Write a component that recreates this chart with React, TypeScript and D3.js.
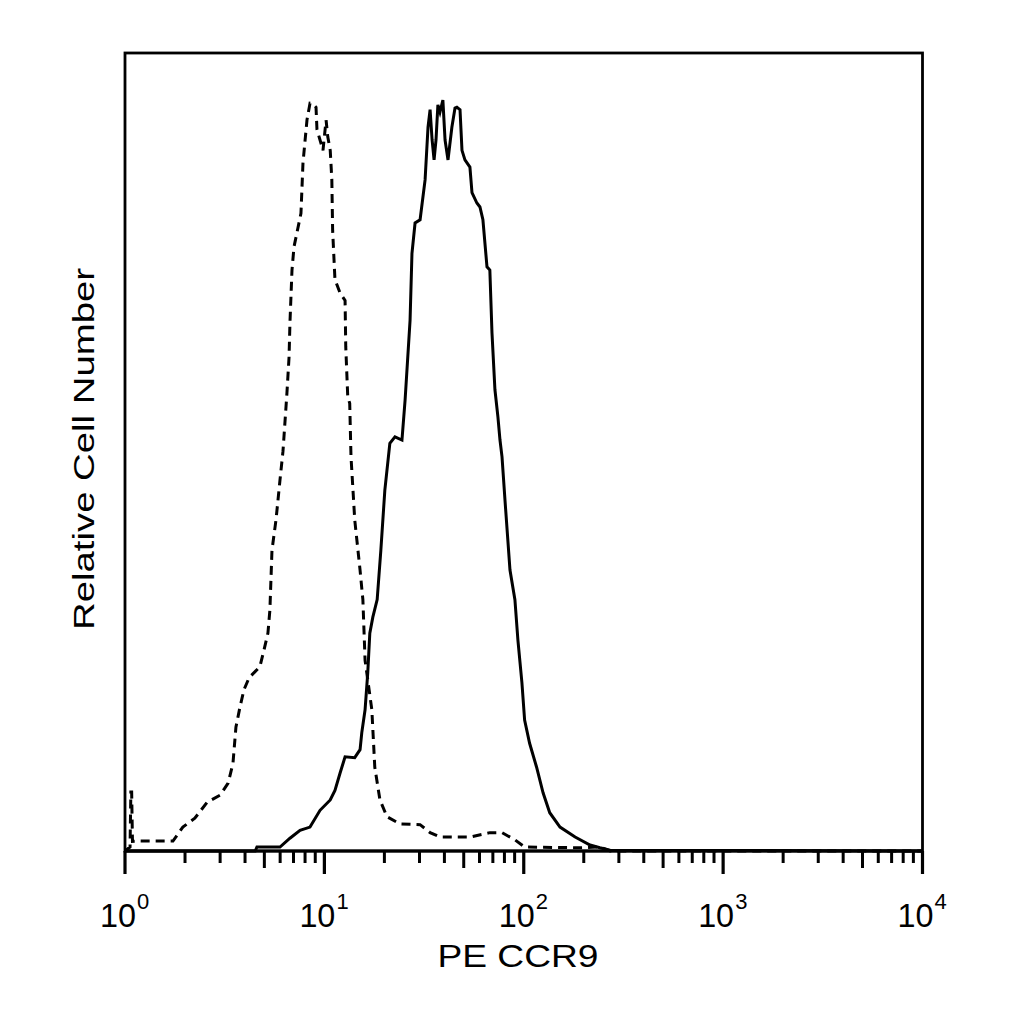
import React from "react";
import * as d3 from "d3";

// Flow cytometry histogram: PE CCR9 vs isotype control
const tickExponents = [0, 1, 2, 3, 4];

// [fluorescence intensity, relative count]
const isotypeControl: [number, number][] = [
  [1.0, 0], [1.06, 0.5], [1.07, 7.4], [1.08, 7.4], [1.09, 1.2], [1.19, 1.25],
  [1.74, 1.25], [1.95, 3.0], [2.24, 4.1], [2.58, 6.1], [3.0, 7.0], [3.29, 8.5],
  [3.48, 11.0], [3.6, 15.5], [3.77, 18.0], [3.95, 20.2], [4.19, 21.7], [4.75, 23.1],
  [4.98, 25.2], [5.21, 27.3], [5.33, 30.2], [5.46, 37.7], [5.72, 41.5], [5.99, 46.5],
  [6.2, 50.1], [6.49, 57.4], [6.65, 61.9], [6.72, 66.2], [6.88, 72.8], [7.04, 75.7],
  [7.63, 79.9], [7.81, 86.2], [8.18, 91.6], [8.47, 93.7], [8.77, 93.6], [9.08, 93.2],
  [9.18, 90.4], [9.51, 89.1], [9.84, 87.8], [10.2, 91.6], [10.4, 89.5], [10.7, 87.8],
  [10.9, 84.1], [11.0, 77.8], [11.3, 71.6], [12.0, 69.9], [12.7, 69.0], [12.8, 63.2],
  [13.1, 56.9], [13.4, 56.1], [13.6, 49.4], [14.2, 41.5], [15.1, 35.2], [15.6, 31.5],
  [16.0, 23.9], [17.3, 17.7], [17.9, 10.5], [19.0, 6.4], [20.6, 4.3], [23.9, 3.4],
  [30.2, 3.3], [33.9, 2.3], [38.0, 1.75], [53.7, 1.75], [67.6, 2.3], [77.8, 2.3],
  [90.3, 1.4], [101, 0.5], [191, 0.4], [241, 0.5], [271, 0], [10000, 0],
];

const ccr9Stained: [number, number][] = [
  [1.0, 0], [4.5, 0], [4.59, 0.5], [5.99, 0.5], [6.72, 1.6], [7.55, 2.6], [8.47, 3.0],
  [9.51, 5.1], [10.7, 6.4], [11.3, 7.6], [12.0, 9.8], [12.7, 11.8], [14.2, 11.7],
  [15.1, 12.7], [15.4, 14.8], [16.0, 17.7], [16.5, 22.3], [16.9, 27.3], [17.5, 29.3],
  [18.4, 31.5], [19.2, 37.7], [20.1, 45.2], [21.3, 51.1], [22.6, 51.9], [24.5, 51.5],
  [25.4, 56.5], [26.9, 66.5], [27.5, 74.9], [28.5, 78.7], [30.2, 79.1], [32.0, 84.1],
  [33.1, 90.7], [33.9, 92.9], [34.7, 89.1], [35.5, 86.6], [36.3, 89.1], [37.1, 93.5],
  [38.0, 92.6], [39.3, 94.1], [40.3, 89.1], [41.7, 86.6], [43.6, 90.7], [45.2, 93.1],
  [46.2, 93.2], [47.9, 92.9], [49.0, 87.8], [50.7, 86.6], [53.7, 85.7], [55.0, 82.5],
  [58.2, 81.2], [60.3, 80.7], [62.4, 79.1], [65.4, 73.2], [67.6, 72.8], [69.3, 64.9],
  [71.7, 57.8], [74.2, 54.4], [76.0, 51.5], [77.8, 49.4], [80.5, 44.0], [85.3, 35.2],
  [90.3, 31.5], [93.5, 26.4], [97.9, 21.1], [101, 16.4], [107, 13.5], [116, 10.5],
  [125, 7.3], [135, 4.8], [152, 3.0], [181, 1.75], [215, 0.75], [241, 0.4],
  [271, 0.1], [10000, 0],
];

const width = 1024;
const height = 1024;
const margin = { left: 125, right: 101.5, top: 53, bottom: 173 };
const font = "'Liberation Sans', Arial, Helvetica, sans-serif";

export default function App() {
  const x = d3
    .scaleLog()
    .domain([1, 10000])
    .range([margin.left, width - margin.right]);
  const y = d3
    .scaleLinear()
    .domain([0, 100])
    .range([height - margin.bottom, margin.top]);

  const line = d3
    .line<[number, number]>()
    .x((d) => x(d[0]))
    .y((d) => y(d[1]));

  const y0 = y(0);

  // minor ticks 2..9 in each decade
  const minor: { v: number; five: boolean }[] = [];
  for (let e = 0; e < 4; e++) {
    for (let m = 2; m <= 9; m++) minor.push({ v: m * Math.pow(10, e), five: m === 5 });
  }

  return (
    <svg
      width={width}
      height={height}
      style={{ position: "absolute", left: 0, top: 0, background: "#fff" }}
    >
      <rect
        x={x(1)}
        y={y(100)}
        width={x(10000) - x(1)}
        height={y0 - y(100)}
        fill="none"
        stroke="#000"
        strokeWidth={2.8}
      />
      <line x1={x(1)} x2={x(10000)} y1={y0} y2={y0} stroke="#000" strokeWidth={3.2} />

      {minor.map((t, i) => (
        <line
          key={i}
          x1={x(t.v)}
          x2={x(t.v)}
          y1={y0}
          y2={y0 + (t.five ? 17 : 12)}
          stroke="#000"
          strokeWidth={3}
        />
      ))}
      {tickExponents.map((e) => (
        <line
          key={e}
          x1={x(Math.pow(10, e))}
          x2={x(Math.pow(10, e))}
          y1={y0}
          y2={y0 + 23}
          stroke="#000"
          strokeWidth={3.2}
        />
      ))}

      {tickExponents.map((e) => {
        const cx = x(Math.pow(10, e));
        return (
          <g key={e} fontFamily={font} fill="#000">
            <text x={cx - 25} y={927} fontSize={33} textLength={36} lengthAdjust="spacingAndGlyphs">
              10
            </text>
            <text x={cx + 12} y={909} fontSize={22}>
              {e}
            </text>
          </g>
        );
      })}

      <path d={line(isotypeControl) || ""} fill="none" stroke="#000" strokeWidth={3} strokeDasharray="9,6" />
      <path d={line(ccr9Stained) || ""} fill="none" stroke="#000" strokeWidth={3} />

      <text
        x={518}
        y={967}
        textAnchor="middle"
        fontFamily={font}
        fontSize={32}
        textLength={161}
        lengthAdjust="spacingAndGlyphs"
      >
        PE CCR9
      </text>
      <text
        transform={`translate(94,449) rotate(-90)`}
        textAnchor="middle"
        fontFamily={font}
        fontSize={30}
        textLength={362}
        lengthAdjust="spacingAndGlyphs"
      >
        Relative Cell Number
      </text>
    </svg>
  );
}
